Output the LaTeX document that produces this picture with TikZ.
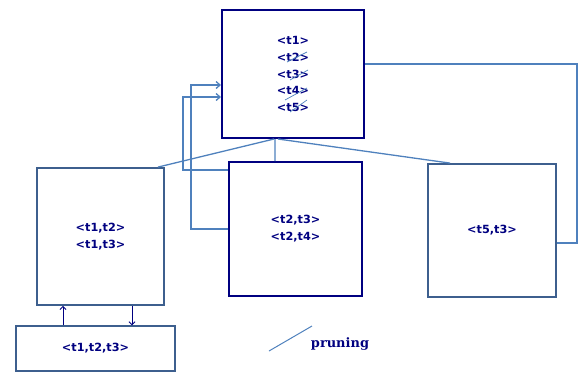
\documentclass[tikz,border=0pt]{standalone}
\usepackage{fontspec}
\usetikzlibrary{arrows.meta}
\newfontfamily\boxfont{DejaVu Sans}
\newfontfamily\notefont{DejaVu Serif}
\definecolor{navyline}{HTML}{000080}
\definecolor{slateline}{HTML}{3D5F8E}
\definecolor{steelline}{HTML}{4F81BD}
\tikzset{
  itemset/.style={draw, rectangle, inner sep=0pt, align=center,
    font=\boxfont\bfseries\fontsize{11.3}{17}\selectfont, text=navyline},
  navybox/.style={itemset, draw=navyline, line width=2bp},
  slatebox/.style={itemset, draw=slateline, line width=1.8bp},
  thinbox/.style={itemset, draw=slateline, line width=1.3bp},
  link/.style={draw=steelline, line width=1.3bp},
  feed/.style={link, -{Straight Barb[length=4bp,width=7bp]}},
  pruneline/.style={draw=steelline, line width=0.7bp},
  updown/.style={draw=navyline, line width=0.9bp, -{Straight Barb[length=3bp,width=6bp]}}
}
\begin{document}
\begin{tikzpicture}[x=1bp, y=-1bp]
  \useasboundingbox (0,0) rectangle (581,372);

  % candidate itemsets
  \node[navybox, minimum width=142bp, minimum height=128bp] (top) at (293,74)
    {<t1>\\<t2>\\<t3>\\<t4>\\<t5>};
  \node[slatebox, minimum width=127bp, minimum height=137bp] (left) at (100.5,236.5)
    {<t1,t2>\\<t1,t3>};
  \node[navybox, minimum width=133bp, minimum height=134bp] (mid) at (295.5,229)
    {<t2,t3>\\<t2,t4>};
  \node[slatebox, minimum width=128bp, minimum height=133bp] (right) at (492,230.5)
    {<t5,t3>};
  \node[thinbox, minimum width=159bp, minimum height=45bp] (bot) at (95.5,348.5)
    {<t1,t2,t3>};

  % branches from the single items
  \draw[link] ([xshift=-19bp]top.south) -- ([xshift=-7bp]left.north east);
  \draw[link] ([xshift=-18bp]top.south) -- ([xshift=-20.5bp]mid.north);
  \draw[link] ([xshift=-15bp]top.south) -- ([xshift=-42bp]right.north);

  % feedback into the single items
  \draw[feed] (mid.west) -- ++(-37,0) |- ([yshift=-11bp]top.west);
  \draw[feed] ([yshift=59bp]mid.west) -- ++(-45,0) |- ([yshift=-23bp]top.west);
  \draw[link, line width=1.8bp] ([yshift=10bp]top.east) -- ++(212,0)
    |- ([yshift=-12.5bp]right.east);

  % between the pairs and the triple
  \draw[updown] ([xshift=-32.5bp]bot.north) -- ([xshift=-32.5bp]bot.north |- left.south);
  \draw[updown] ([xshift=31.5bp]left.south) -- ([xshift=31.5bp]left.south |- bot.north);

  % pruned items
  \draw[pruneline] (287,62) -- (307,52);
  \draw[pruneline] (290,80) -- (308,70);
  \draw[pruneline] (285,100) -- (307,88);
  \draw[pruneline] (290,112) -- (307,100);

  % legend
  \coordinate (legA) at (269,351);
  \coordinate (legB) at (312,326);
  \draw[link, line width=1bp] (legA) -- (legB);
  \node[font=\notefont\bfseries\fontsize{13}{15}\selectfont, text=navyline,
    inner sep=0pt] (legtext) at (340,344) {pruning};
\end{tikzpicture}
\end{document}
